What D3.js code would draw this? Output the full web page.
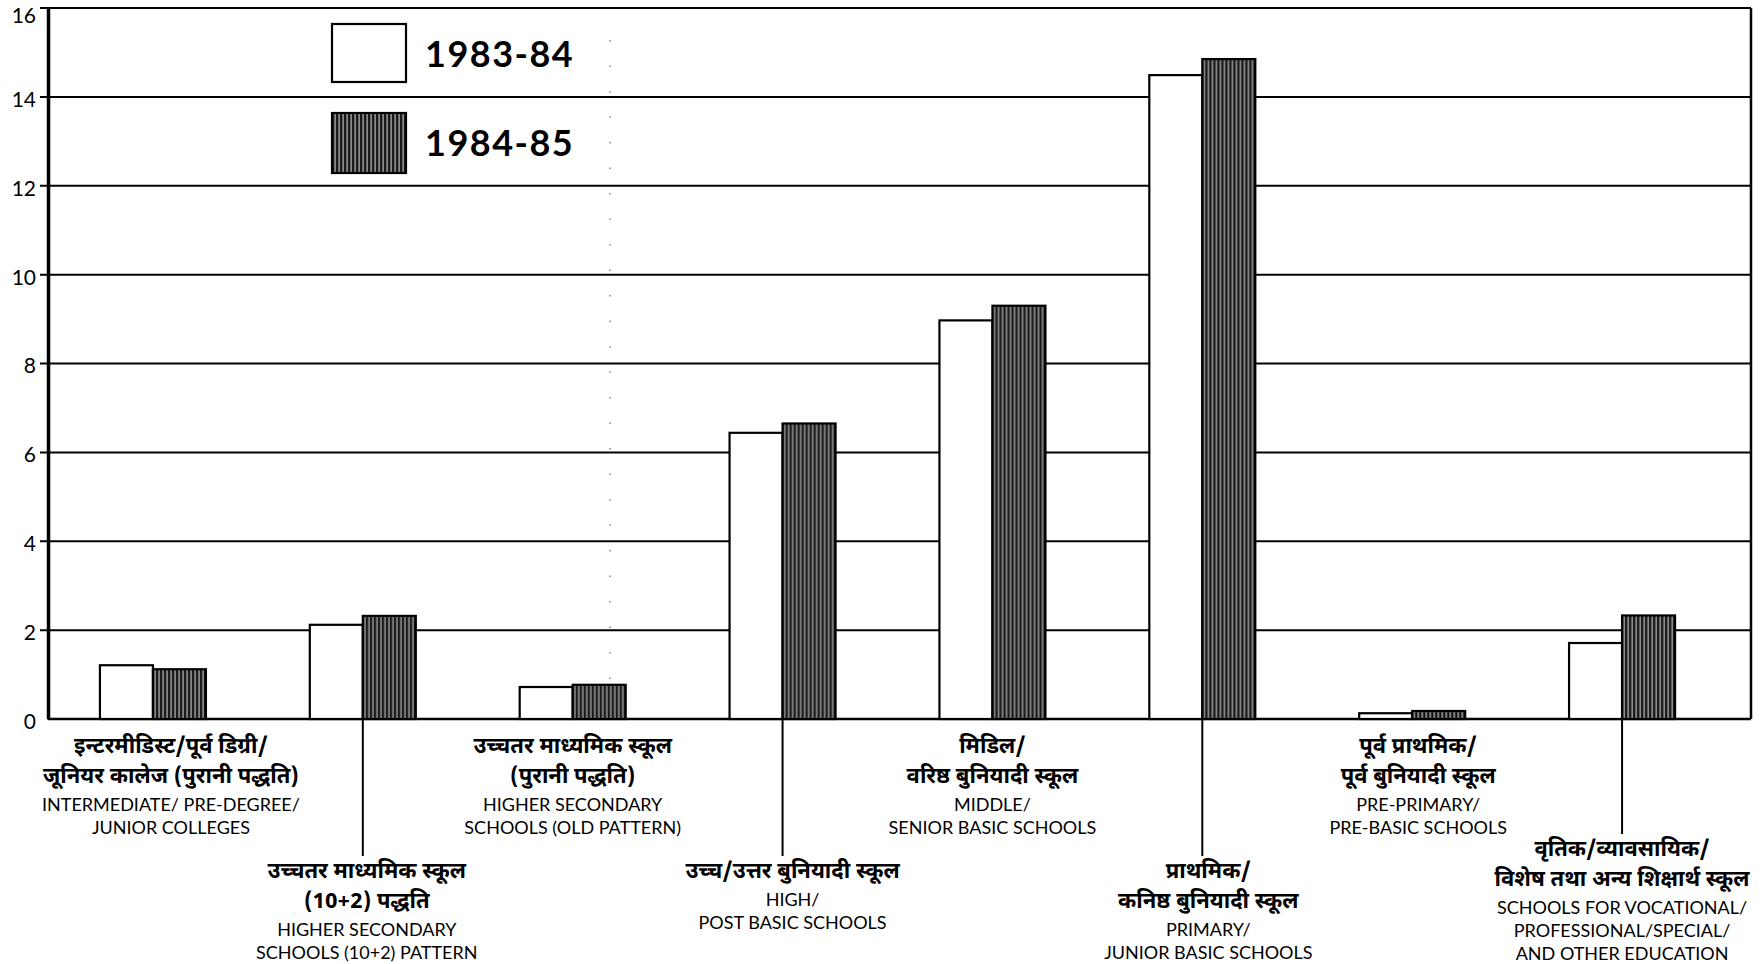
<!DOCTYPE html>
<html><head><meta charset="utf-8">
<script src="https://cdn.jsdelivr.net/npm/d3@7/dist/d3.min.js"></script>
<style>body{margin:0;background:#fff}svg{display:block}</style>
</head><body>
<svg id="chart" width="1763" height="964"></svg>
<script>
// ---- data ----
const categories = ["Intermediate", "HS10+2", "HSOld", "High", "Middle", "Primary", "PrePrimary", "Vocational"];
const series = ["1983-84", "1984-85"];
const values1983 = [1.21, 2.12, 0.72, 6.44, 8.97, 14.49, 0.13, 1.71];
const values1984 = [1.12, 2.32, 0.77, 6.65, 9.30, 14.85, 0.18, 2.33];
const yTicks = [0, 2, 4, 6, 8, 10, 12, 14, 16];
const labelsHindi = [
  ["इन्टरमीडिस्ट/पूर्व डिग्री/", "जूनियर कालेज (पुरानी पद्धति)"],
  ["उच्चतर माध्यमिक स्कूल", "(10+2) पद्धति"],
  ["उच्चतर माध्यमिक स्कूल", "(पुरानी पद्धति)"],
  ["उच्च/उत्तर बुनियादी स्कूल"],
  ["मिडिल/", "वरिष्ठ बुनियादी स्कूल"],
  ["प्राथमिक/", "कनिष्ठ बुनियादी स्कूल"],
  ["पूर्व प्राथमिक/", "पूर्व बुनियादी स्कूल"],
  ["वृतिक/व्यावसायिक/", "विशेष तथा अन्य शिक्षार्थ स्कूल"]
];
const labelsEnglish = [
  ["INTERMEDIATE/ PRE-DEGREE/", "JUNIOR COLLEGES"],
  ["HIGHER SECONDARY", "SCHOOLS (10+2) PATTERN"],
  ["HIGHER SECONDARY", "SCHOOLS (OLD PATTERN)"],
  ["HIGH/", "POST BASIC SCHOOLS"],
  ["MIDDLE/", "SENIOR BASIC SCHOOLS"],
  ["PRIMARY/", "JUNIOR BASIC SCHOOLS"],
  ["PRE-PRIMARY/", "PRE-BASIC SCHOOLS"],
  ["SCHOOLS FOR VOCATIONAL/", "PROFESSIONAL/SPECIAL/", "AND OTHER EDUCATION"]
];
const labelTier = [0, 1, 0, 1, 0, 1, 0, 1];

// ---- layout ----
const labelNudge = [18, 4, 0, 10, 0, 6, 6, 0];
const svg = d3.select("#chart");
const plotL = 48, plotR = 1751, plotT = 8, plotB = 719;
const x = d3.scaleBand().domain(categories).range([48, 1727]).padding(0);
const groupW = 106;
const xs = d3.scaleBand().domain(series).range([0, groupW]).padding(0);
const y = d3.scaleLinear().domain([0, 16]).range([plotB, plotT]);
const hindiFont = "'Noto Sans Devanagari','Lohit Devanagari','Noto Sans',sans-serif";
const engFont = "Lato, 'Open Sans', sans-serif";

// hatch pattern
const defs = svg.append("defs");
const pat = defs.append("pattern").attr("id", "hatch").attr("patternUnits", "userSpaceOnUse")
  .attr("width", 4).attr("height", 10);
pat.append("rect").attr("width", 4).attr("height", 10).attr("fill", "#1a1a1a");
pat.append("rect").attr("x", 2.6).attr("width", 1).attr("height", 10).attr("fill", "#d8d8d8");

// faint scan dotted line
svg.append("line").attr("x1", 610).attr("x2", 610).attr("y1", 40).attr("y2", 700)
  .attr("stroke", "#888").attr("stroke-width", 1.5).attr("stroke-dasharray", "1.5 24");

// gridlines
svg.append("g").selectAll("line").data(yTicks.filter(d => d > 0)).join("line")
  .attr("x1", plotL - 8).attr("x2", plotR).attr("y1", d => y(d)).attr("y2", d => y(d))
  .attr("stroke", "#000").attr("stroke-width", 2);
// baseline
svg.append("line").attr("x1", plotL).attr("x2", plotR).attr("y1", y(0)).attr("y2", y(0))
  .attr("stroke", "#000").attr("stroke-width", 2.5);
// right border
svg.append("line").attr("x1", plotR).attr("x2", plotR).attr("y1", y(16)).attr("y2", y(0))
  .attr("stroke", "#000").attr("stroke-width", 2.5);

// y axis
const yAxis = d3.axisLeft(y).tickValues(yTicks).tickSize(0).tickPadding(8).tickFormat(d3.format("d"));
const ga = svg.append("g").attr("transform", `translate(${plotL},0)`).call(yAxis);
ga.select(".domain").attr("stroke", "#000").attr("stroke-width", 3.5);
ga.selectAll("text").attr("font-family", engFont).attr("font-size", 21).attr("fill", "#000")
  .attr("dx", -4).attr("dy", d => d === 16 ? "0.68em" : "0.45em");

// bars
const groups = svg.append("g").selectAll("g").data(categories).join("g")
  .attr("transform", d => `translate(${x(d) + (x.bandwidth() - groupW) / 2},0)`);
groups.selectAll("rect").data((d, i) => [
  { s: series[0], v: values1983[i] },
  { s: series[1], v: values1984[i] }
]).join("rect")
  .attr("x", d => xs(d.s)).attr("width", xs.bandwidth())
  .attr("y", d => y(d.v)).attr("height", d => y(0) - y(d.v))
  .attr("fill", d => d.s === series[0] ? "#fff" : "url(#hatch)")
  .attr("stroke", "#000").attr("stroke-width", 2.2);

// category labels
const labG = svg.append("g");
categories.forEach((c, i) => {
  const cx = x(c) + x.bandwidth() / 2;
  const lines = labelsHindi[i].map(t => ({ t, h: true })).concat(labelsEnglish[i].map(t => ({ t, h: false })));
  let start = labelTier[i] === 0 ? 745 : 870 - Math.max(0, lines.length - 4) * 22;
  if (labelTier[i] === 1) {
    labG.append("line").attr("x1", cx).attr("x2", cx).attr("y1", y(0)).attr("y2", start - 14)
      .attr("stroke", "#000").attr("stroke-width", 2);
  }
  const tx = cx + labelNudge[i];
  let yy = start;
  lines.forEach((ln, k) => {
    if (k > 0) yy += (lines[k - 1].h || ln.h) ? 30 : 23;
    labG.append("text").attr("x", tx).attr("y", yy).attr("dy", "0.35em")
      .attr("text-anchor", "middle")
      .attr("font-family", ln.h ? hindiFont : engFont)
      .attr("font-size", ln.h ? 22 : 18)
      .attr("font-weight", ln.h ? 700 : 400)
      .attr("fill", "#000").text(ln.t);
  });
});

// legend
const leg = svg.append("g");
series.forEach((s, i) => {
  const by = i === 0 ? 24 : 113;
  leg.append("rect").attr("x", 332).attr("y", by).attr("width", 74).attr("height", i === 0 ? 58 : 60)
    .attr("fill", i === 0 ? "#fff" : "url(#hatch)").attr("stroke", "#000").attr("stroke-width", 2.2);
  leg.append("text").attr("x", 425).attr("y", by + 30).attr("dy", "0.35em")
    .attr("font-family", engFont).attr("font-weight", 700).attr("font-size", 36)
    .attr("letter-spacing", 1.5).attr("fill", "#000").text(s);
});
</script>
</body></html>
